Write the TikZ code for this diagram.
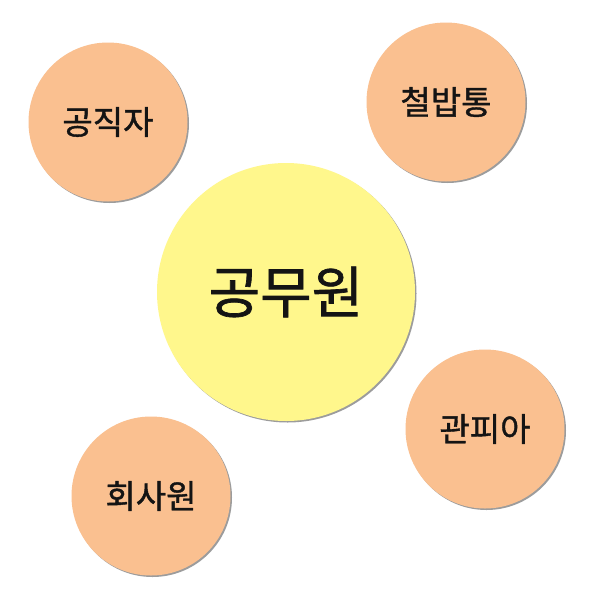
\documentclass[tikz,border=0pt]{standalone}
\usepackage{fontspec}
\newfontfamily\kr[FakeBold=1.2]{Noto Sans CJK KR}
\usepackage{xcolor}
\usetikzlibrary{shadows}

\definecolor{peach}{RGB}{250,192,144}
\definecolor{lemon}{RGB}{255,247,140}

\begin{document}
\begin{tikzpicture}[x=1pt, y=-1pt,
    bubble/.style={circle, inner sep=0pt, minimum size=159pt, fill=peach,
        text=black!92, font=\kr\fontsize{33}{38}\selectfont,
        drop shadow={shadow xshift=1.5pt, shadow yshift=-1.5pt, opacity=0.55, fill=black!70}},
    core/.style={bubble, minimum size=258pt, fill=lemon, font=\kr\fontsize{56}{64}\selectfont}
    ]
    \useasboundingbox (0,0) rectangle (591,600);
    \fill[white] (0,0) rectangle (591,600);

    \node[core] (center) at (286,292) {공무원};

    \foreach \x/\y/\name/\word in {108/122/gongjik/공직자, 446/102/cheolbap/철밥통,
                                   485/429/gwanpia/관피아, 151/496/hoesa/회사원}{
        \node[bubble] (\name) at (\x,\y) {\word};
    }
\end{tikzpicture}
\end{document}
